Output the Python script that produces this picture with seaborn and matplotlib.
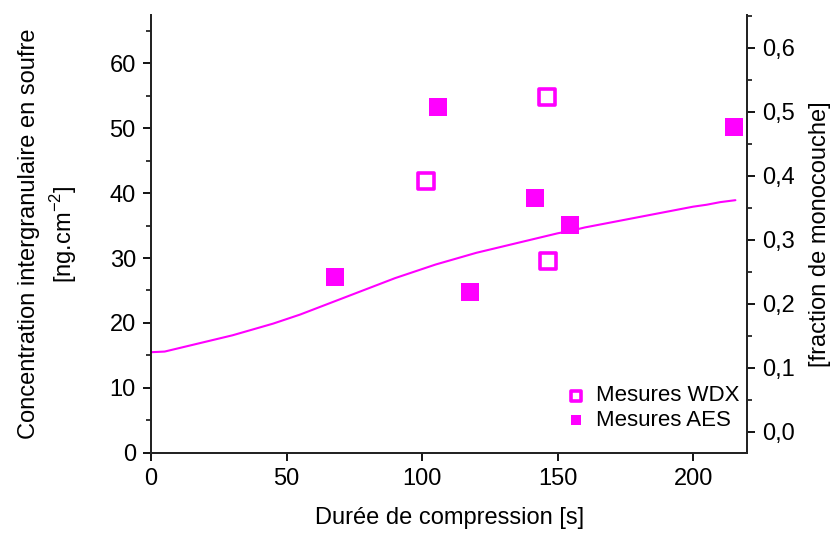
import numpy as np
import pandas as pd
import matplotlib
matplotlib.use("Agg")
import matplotlib.pyplot as plt
import seaborn as sns
from matplotlib.ticker import MultipleLocator, FuncFormatter

# data
aes_x = [67.7, 106.0, 117.7, 141.5, 154.7, 215.0]
aes_y = [27.1, 53.3, 24.7, 39.2, 35.1, 50.2]

wdx_x = [101.3, 146.0, 146.3]
wdx_y = [41.8, 54.8, 29.5]

curve_x = [0, 5, 10, 15, 20, 25, 30, 35, 40, 45, 50, 55, 60, 65, 70, 75, 80, 85,
           90, 95, 100, 105, 110, 115, 120, 125, 130, 135, 140, 145, 150, 155,
           160, 165, 170, 175, 180, 185, 190, 195, 200, 205, 210, 215.6]
curve_y = [15.5, 15.6, 16.1, 16.6, 17.1, 17.6, 18.1, 18.7, 19.3, 19.9, 20.6, 21.3,
           22.1, 22.9, 23.7, 24.5, 25.3, 26.1, 26.9, 27.6, 28.3, 29.0, 29.6, 30.2,
           30.8, 31.3, 31.8, 32.3, 32.8, 33.3, 33.8, 34.2, 34.7, 35.1, 35.5, 35.9,
           36.3, 36.7, 37.1, 37.5, 37.9, 38.2, 38.6, 38.9]

sns.set_theme(style="ticks")
plt.rcParams["font.family"] = ["Liberation Sans", "DejaVu Sans"]
plt.rcParams["mathtext.fontset"] = "custom"
plt.rcParams["mathtext.rm"] = "Liberation Sans"
plt.rcParams["text.color"] = "black"
plt.rcParams["axes.labelcolor"] = "black"

magenta = "#FF00FF"
fs = 17

fig = plt.figure(figsize=(8.35, 5.36), dpi=100)
ax = fig.add_axes([0.181, 0.155, 0.714, 0.817])

sns.lineplot(x=curve_x, y=curve_y, ax=ax, color=magenta, linewidth=1.5,
             sort=False, estimator=None)
sns.scatterplot(x=wdx_x, y=wdx_y, ax=ax, marker="s", s=140,
                facecolor="white", edgecolor=magenta, linewidth=2.6,
                label="Mesures WDX", zorder=3)
sns.scatterplot(x=aes_x, y=aes_y, ax=ax, marker="s", s=160,
                color=magenta, edgecolor=magenta, linewidth=0,
                label="Mesures AES", zorder=3)

ax.set_xlim(0, 220)
ax.set_ylim(0, 67.4)
ax.xaxis.set_major_locator(MultipleLocator(50))
ax.yaxis.set_major_locator(MultipleLocator(10))
ax.yaxis.set_minor_locator(MultipleLocator(5))
ax.spines["top"].set_visible(False)
for s in ["left", "bottom", "right"]:
    ax.spines[s].set_linewidth(1.3)
    ax.spines[s].set_color("black")
ax.tick_params(axis="both", which="major", length=6, width=1.3,
               labelsize=fs, direction="out", colors="black", pad=5)
ax.tick_params(axis="y", which="minor", length=3.5, width=1.3, direction="out")

ax.set_xlabel("Durée de compression [s]", fontsize=fs, labelpad=12)
ax.set_ylabel("Concentration intergranulaire en soufre\n[ng.cm$^{-2}$]",
              fontsize=fs, labelpad=22, linespacing=1.35)

# right axis: monolayer fraction
ax2 = ax.twinx()
ax2.set_ylim(-0.0335, 0.6515)
ax2.yaxis.set_major_locator(MultipleLocator(0.1))
ax2.yaxis.set_minor_locator(MultipleLocator(0.05))
ax2.yaxis.set_major_formatter(FuncFormatter(lambda v, p: f"{v:.1f}".replace(".", ",").replace("-0,0", "0,0")))
ax2.spines["top"].set_visible(False)
ax2.spines["right"].set_linewidth(1.3)
ax2.tick_params(axis="y", which="major", length=6, width=1.3,
                labelsize=fs, direction="out", colors="black", pad=5)
ax2.tick_params(axis="y", which="minor", length=3.5, width=1.3, direction="out")
ax2.set_ylabel("[fraction de monocouche]", fontsize=fs, labelpad=10)

leg = ax.legend(loc="lower right", bbox_to_anchor=(1.01, 0.02), frameon=False,
                fontsize=fs - 1, handletextpad=0.3, handlelength=1.2,
                borderaxespad=0.2, markerscale=0.55, labelspacing=0.15)

fig.savefig("out.png", dpi=100)
